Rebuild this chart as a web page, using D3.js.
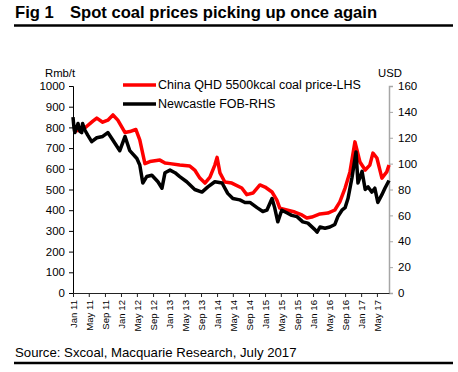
<!DOCTYPE html>
<html><head><meta charset="utf-8">
<script src="https://cdn.jsdelivr.net/npm/d3@7"></script>
<style>
body{margin:0;background:#fff;}
svg{display:block;font-family:"Liberation Sans",Arial,sans-serif;}
</style></head><body>
<svg id="c" width="458" height="372"></svg>
<script>
// ---- data ----
const qhdDates = ["2011-01-01","2011-02-08","2011-04-01","2011-06-01","2011-07-01","2011-08-15","2011-09-23","2011-11-01","2011-12-08","2012-02-01","2012-03-08","2012-04-23","2012-05-23","2012-07-01","2012-08-08","2012-10-23","2012-12-01","2013-01-08","2013-03-23","2013-06-08","2013-07-15","2013-08-23","2013-10-01","2013-11-08","2013-12-15","2014-01-01","2014-01-23","2014-03-01","2014-04-23","2014-07-08","2014-08-15","2014-10-01","2014-11-23","2015-01-01","2015-02-23","2015-04-01","2015-04-23","2015-06-15","2015-08-15","2015-10-08","2015-11-15","2015-12-23","2016-02-23","2016-04-23","2016-06-15","2016-07-23","2016-09-01","2016-10-08","2016-11-15","2016-12-23","2017-02-01","2017-03-08","2017-04-01","2017-05-01","2017-06-08","2017-07-15","2017-08-01"];
const qhdValues = [782,785,797,830,845,825,835,860,835,775,780,790,740,625,635,642,628,625,618,613,594,555,531,560,618,655,580,536,531,507,475,483,522,512,488,449,410,401,391,377,362,367,382,386,401,440,507,585,730,633,594,618,676,652,555,585,618];

const ncDates = ["2011-01-01","2011-01-08","2011-01-15","2011-02-08","2011-02-23","2011-03-08","2011-03-15","2011-04-01","2011-04-23","2011-05-23","2011-07-01","2011-08-15","2011-09-23","2011-11-01","2011-12-23","2012-02-01","2012-03-08","2012-05-01","2012-05-23","2012-06-15","2012-07-15","2012-08-23","2012-10-08","2012-11-08","2012-12-01","2013-01-08","2013-02-15","2013-03-23","2013-05-15","2013-07-15","2013-09-08","2013-10-23","2013-12-15","2014-02-08","2014-03-23","2014-05-01","2014-06-23","2014-08-01","2014-09-08","2014-11-01","2014-12-15","2015-01-15","2015-02-23","2015-03-15","2015-04-08","2015-05-08","2015-06-15","2015-07-23","2015-09-01","2015-10-15","2015-11-23","2016-01-15","2016-02-01","2016-02-23","2016-04-01","2016-05-08","2016-06-15","2016-07-08","2016-08-08","2016-09-01","2016-09-23","2016-10-23","2016-11-23","2016-12-08","2017-01-08","2017-02-01","2017-02-23","2017-03-23","2017-04-15","2017-05-08","2017-06-08","2017-07-01","2017-08-01"];
const ncValues = [136,128,124,131,125,124,131,126,122,117,120,121,124,118,110,121,110,104,99,85,90,91,86,81,93,95,93,90,86,80,78,82,86,85,77,73,72,70,70,66,63,64,73,66,55,64,62,60,59,55,54,49,47,51,50,51,53,59,64,66,73,89,109,85,94,80,82,78,81,70,76,81,87];

const leftTicks = [0,100,200,300,400,500,600,700,800,900,1000];
const rightTicks = [0,20,40,60,80,100,120,140,160];
const xTickLabels = ["Jan 11","May 11","Sep 11","Jan 12","May 12","Sep 12","Jan 13","May 13","Sep 13","Jan 14","May 14","Sep 14","Jan 15","May 15","Sep 15","Jan 16","May 16","Sep 16","Jan 17","May 17"];
const seriesNames = ["China QHD 5500kcal coal price-LHS","Newcastle FOB-RHS"];

// ---- chart ----
const svg = d3.select("#c");
const parse = d3.timeParse("%Y-%m-%d");
const parseTick = d3.timeParse("%b %y");
const L = 73, R = 389, T = 86, B = 293;

const x = d3.scaleTime().domain([parse("2011-01-01"), parse("2017-08-01")]).range([L, R]);
const yL = d3.scaleLinear().domain([0, 1000]).range([B, T]);
const yR = d3.scaleLinear().domain([0, 160]).range([B, T]);

// title
svg.append("text").attr("x", 15).attr("y", 18).attr("font-size", 16.6).attr("font-weight", "bold").text("Fig 1");
svg.append("text").attr("x", 70).attr("y", 18).attr("font-size", 16.6).attr("font-weight", "bold").text("Spot coal prices picking up once again");
svg.append("line").attr("x1", 14).attr("x2", 453).attr("y1", 25.5).attr("y2", 25.5).attr("stroke", "#000").attr("stroke-width", 2.5);

// axis units
svg.append("text").attr("x", 45).attr("y", 77).attr("font-size", 11.3).text("Rmb/t");
svg.append("text").attr("x", 378).attr("y", 77).attr("font-size", 11.3).text("USD");

// left axis
const gL = svg.append("g").attr("transform", `translate(${L},0)`)
  .call(d3.axisLeft(yL).tickValues(leftTicks).tickSize(4).tickPadding(4).tickFormat(d3.format("d")));
gL.select(".domain").attr("stroke", "#000");
gL.selectAll(".tick line").attr("stroke", "#000");
gL.selectAll("text").attr("font-size", 11.5).attr("font-family", "Liberation Sans, Arial, sans-serif").attr("fill", "#000");

// right axis
const gR = svg.append("g").attr("transform", `translate(${R},0)`)
  .call(d3.axisRight(yR).tickValues(rightTicks).tickSize(4).tickPadding(5).tickFormat(d3.format("d")));
gR.select(".domain").attr("stroke", "#a6a6a6").attr("stroke-width", 1.5);
gR.selectAll(".tick line").attr("stroke", "#a6a6a6");
gR.selectAll("text").attr("font-size", 11.5).attr("font-family", "Liberation Sans, Arial, sans-serif").attr("fill", "#000");

// bottom axis
const tickDates = xTickLabels.map(s => parseTick(s));
const gB = svg.append("g").attr("transform", `translate(0,${B})`)
  .call(d3.axisBottom(x).tickValues(tickDates).tickSize(4).tickSizeOuter(0).tickFormat((d, i) => xTickLabels[i]));
gB.select(".domain").attr("stroke", "#222");
gB.selectAll(".tick line").attr("stroke", "#222");
gB.selectAll("text")
  .attr("font-size", 9.6).attr("font-family", "Liberation Sans, Arial, sans-serif").attr("fill", "#000")
  .attr("transform", "rotate(-90)").attr("text-anchor", "end")
  .attr("x", -7).attr("y", 0).attr("dy", "0.35em");

// lines
const lineL = d3.line().x(d => x(d[0])).y(d => yL(d[1])).curve(d3.curveLinear);
const lineR = d3.line().x(d => x(d[0])).y(d => yR(d[1])).curve(d3.curveLinear);
const qhd = qhdDates.map((d, i) => [parse(d), qhdValues[i]]);
const nc = ncDates.map((d, i) => [parse(d), ncValues[i]]);

svg.append("path").datum(qhd).attr("d", lineL).attr("fill", "none").attr("stroke", "#ff0000").attr("stroke-width", 3.5).attr("stroke-linejoin", "round");
svg.append("path").datum(nc).attr("d", lineR).attr("fill", "none").attr("stroke", "#000").attr("stroke-width", 3.5).attr("stroke-linejoin", "round");

// legend
const leg = [{c: "#ff0000", y: 85}, {c: "#000", y: 104}];
leg.forEach((l, i) => {
  svg.append("line").attr("x1", 123).attr("x2", 156).attr("y1", l.y).attr("y2", l.y).attr("stroke", l.c).attr("stroke-width", 3.5);
  svg.append("text").attr("x", 158).attr("y", l.y + 4.3).attr("font-size", 12.5).text(seriesNames[i]);
});

// source
svg.append("text").attr("x", 15).attr("y", 357).attr("font-size", 13.2).text("Source: Sxcoal, Macquarie Research, July 2017");
svg.append("line").attr("x1", 14).attr("x2", 453).attr("y1", 363).attr("y2", 363).attr("stroke", "#000").attr("stroke-width", 2.5);
</script>
</body></html>
